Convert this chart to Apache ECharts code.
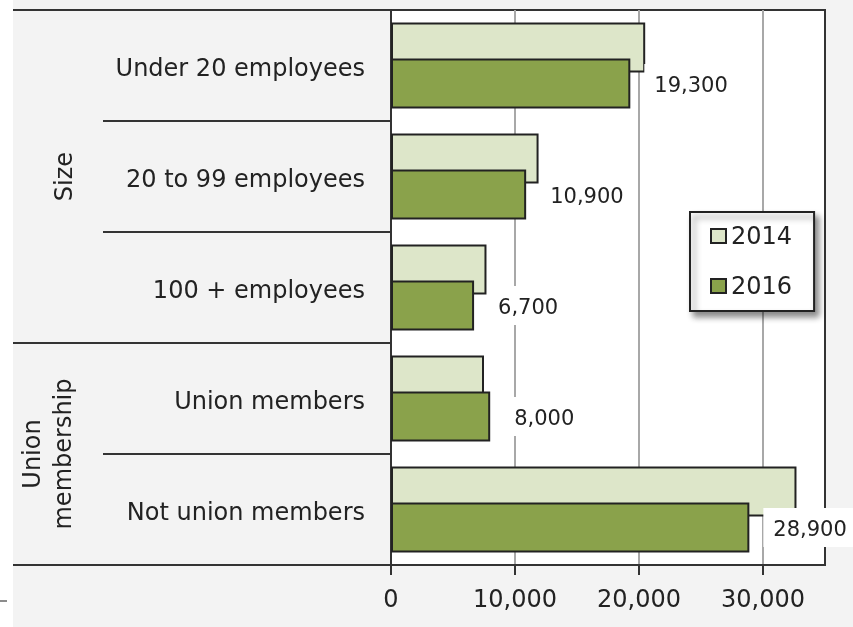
<!DOCTYPE html>
<html>
<head>
<meta charset="utf-8">
<style>
  html, body { margin: 0; padding: 0; background: #f3f3f3; }
  #chart { width: 853px; height: 627px; }
</style>
<script src="https://cdn.jsdelivr.net/npm/echarts@6/dist/echarts.min.js"></script>
</head>
<body>
<div id="chart"></div>
<script>
// Workers by establishment size and union membership, 2014 vs 2016
const categories = ['Under 20 employees', '20 to 99 employees', '100 + employees', 'Union members', 'Not union members'];
const values2014 = [20500, 11900, 7700, 7500, 32700];
const values2016 = [19300, 10900, 6700, 8000, 28900];
const xTicks = [0, 10000, 20000, 30000];
const groupNames = ['Size', 'Union\nmembership'];
const groupSpans = [[0, 2], [3, 4]];

const FONT = 'DejaVu Sans';
const INK = '#222';
const fmt = v => Number(v).toLocaleString('en-US');

const chart = echarts.init(document.getElementById('chart'));

chart.setOption({
  backgroundColor: '#f3f3f3',
  animation: false,
  textStyle: { fontFamily: FONT, color: INK },
  grid: {
    left: 391, right: 28, top: 10, bottom: 62,
    show: true, backgroundColor: '#fff', borderColor: '#333', borderWidth: 2
  },
  legend: {
    orient: 'vertical',
    left: 690, top: 212,
    padding: [14, 22, 11, 20],
    itemWidth: 15, itemHeight: 14, itemGap: 26,
    icon: 'rect',
    formatter: name => '{t|' + name + '}',
    textStyle: {
      fontSize: 24, color: INK, fontFamily: FONT,
      rich: { t: { fontSize: 24, color: INK, fontFamily: FONT, padding: [4, 0, 0, 0] } }
    },
    backgroundColor: '#fff',
    borderColor: '#222', borderWidth: 2,
    shadowBlur: 6, shadowOffsetX: 4, shadowOffsetY: 5, shadowColor: 'rgba(0,0,0,0.45)',
    data: ['2014', '2016']
  },
  xAxis: {
    type: 'value',
    min: 0, max: 35000, interval: 10000,
    axisLine: { show: true, lineStyle: { color: '#333', width: 2 } },
    axisTick: { show: true, length: 10, customValues: xTicks, lineStyle: { color: '#333', width: 2 } },
    axisLabel: { customValues: xTicks, formatter: fmt, fontSize: 24, color: INK, margin: 24, fontFamily: FONT },
    splitLine: { show: true, lineStyle: { color: '#a8a8a8', width: 2 } }
  },
  yAxis: {
    type: 'category',
    inverse: true,
    data: categories,
    axisLine: { show: true, lineStyle: { color: '#333', width: 2 } },
    axisTick: { show: true, length: 288, lineStyle: { color: '#333', width: 2 } },
    axisLabel: {
      margin: 26,
      formatter: v => '{c|' + v + '}',
      rich: { c: { fontSize: 24, color: INK, fontFamily: FONT, padding: [8, 0, 0, 0] } }
    },
    splitLine: { show: false }
  },
  series: [
    {
      name: '2014', type: 'bar', data: values2014,
      barWidth: 50, barGap: '-28%',
      itemStyle: { color: '#dde6c9', borderColor: '#222', borderWidth: 2 }
    },
    {
      name: '2016', type: 'bar', data: values2016,
      barWidth: 50, barGap: '-28%',
      itemStyle: { color: '#8aa24b', borderColor: '#222', borderWidth: 2 },
      label: {
        show: true, position: 'right', distance: 14,
        formatter: p => '{v|' + fmt(p.value) + '}',
        backgroundColor: '#fff', padding: [5, 10, 6, 10],
        rich: { v: { fontSize: 21, color: INK, fontFamily: FONT, padding: [7, 0, 0, 0] } }
      }
    }
  ]
});

// Frame lines, group separators and rotated group titles, placed from the category axis
function drawFrame() {
  const cy = i => chart.convertToPixel({ yAxisIndex: 0 }, i);
  const band = cy(1) - cy(0);
  const edgeTop = i => cy(i) - band / 2;
  const edgeBottom = i => cy(i) + band / 2;
  const plotLeft = chart.convertToPixel({ xAxisIndex: 0 }, 0);

  const longLines = [edgeTop(0)];
  groupSpans.forEach(s => longLines.push(edgeBottom(s[1])));

  const elements = [
    { type: 'rect', shape: { x: 0, y: 0, width: 13, height: 627 }, style: { fill: '#fff' }, z: -5, silent: true },
    { type: 'line', shape: { x1: 0, y1: 601, x2: 7, y2: 601 }, style: { stroke: '#666', lineWidth: 1.5 }, silent: true }
  ];
  longLines.forEach(y => elements.push({
    type: 'line', shape: { x1: 13, y1: y, x2: plotLeft, y2: y },
    style: { stroke: '#333', lineWidth: 2 }, z: 10, silent: true
  }));
  groupNames.forEach((name, g) => {
    const s = groupSpans[g];
    const mid = (edgeTop(s[0]) + edgeBottom(s[1])) / 2;
    const multi = name.indexOf('\n') >= 0;
    elements.push({
      type: 'text', x: multi ? 49 : 66, y: mid, rotation: Math.PI / 2, silent: true,
      style: {
        text: name, fontSize: 24, fontFamily: FONT, fill: INK,
        align: 'center', verticalAlign: 'middle', lineHeight: 31
      }
    });
  });
  chart.setOption({ graphic: { elements: elements } });
}
drawFrame();
</script>
</body>
</html>
